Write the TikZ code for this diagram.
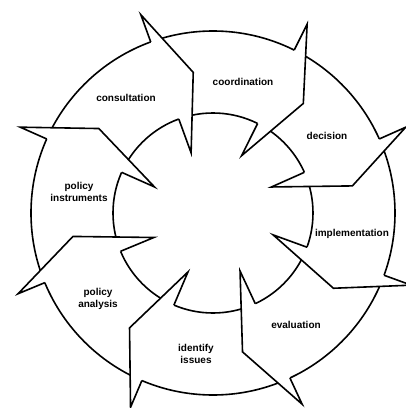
\documentclass[tikz,border=0pt]{standalone}
\usepackage{fontspec}
\setmainfont{Liberation Sans}

\begin{document}
\begin{tikzpicture}[x=1pt,y=1pt,font=\bfseries\fontsize{10}{12}\selectfont,
  ln/.style={line width=1.6pt,line join=miter},
  lb/.style={align=center,inner sep=1pt}]
  \useasboundingbox (-213,-195) rectangle (193,213);
  % ring
  \draw[ln] (0,0) circle[radius=182];
  \draw[ln] (0,0) circle[radius=100];
  % arrow heads: barb angle / tip angle
  \foreach \b/\f in {110/98,63.5/50.5,24/11,-20/-32,-65/-78,
                     -113/-126,-157.5/-170.5,156/143.5}{
    \fill[white] (\b:182) -- (\b:211) -- (\f:142) -- (\b:64) -- (\b:100) -- cycle;
    \draw[ln] (\b:182) -- (\b:211) -- (\f:142) -- (\b:64) -- (\b:100);
  }
  \node[lb] (cons) at (-87,115)  {consultation};
  \node[lb] (coor) at (30,131)   {coordination};
  \node[lb] (deci) at (114,77)   {decision};
  \node[lb] (impl) at (139,-21)  {implementation};
  \node[lb] (eval) at (83,-112)  {evaluation};
  \node[lb] (iden) at (-17,-141) {identify\\issues};
  \node[lb] (anal) at (-115,-86) {policy\\analysis};
  \node[lb] (inst) at (-134,21)  {policy\\instruments};
\end{tikzpicture}
\end{document}
